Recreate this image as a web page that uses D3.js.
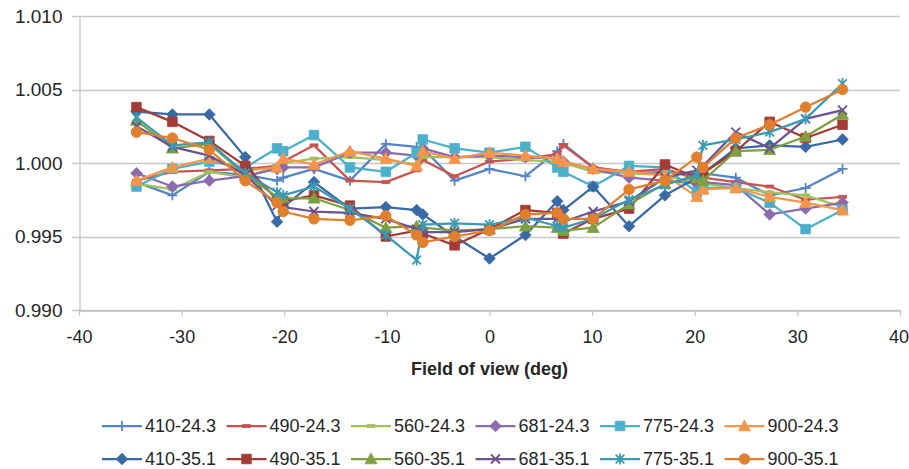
<!DOCTYPE html>
<html>
<head>
<meta charset="utf-8">
<script src="https://cdn.jsdelivr.net/npm/d3@7"></script>
<style>
  body { margin: 0; background: #fff; }
  text { font-family: "Liberation Sans", Arial, sans-serif; fill: #262626; }
</style>
</head>
<body>
<svg id="chart" width="909" height="469"></svg>
<script>
// field of view positions (deg) shared by every series
var fov = [-34.4, -30.9, -27.3, -23.8, -20.7, -20.1, -17.1, -13.6, -10.1, -7.1, -6.5, -3.4, 0,
           3.5, 6.6, 7.2, 10.1, 13.6, 17.1, 20.2, 20.8, 24.0, 27.3, 30.8, 34.4];

var xTicks = [-40, -30, -20, -10, 0, 10, 20, 30, 40];
var yTicks = [0.990, 0.995, 1.000, 1.005, 1.010];

var names = ["410-24.3", "490-24.3", "560-24.3", "681-24.3", "775-24.3", "900-24.3",
             "410-35.1", "490-35.1", "560-35.1", "681-35.1", "775-35.1", "900-35.1"];

// values
var v410_243 = [0.9987, 0.9978, 0.9994, 0.9992, 0.9988, 0.9990, 0.9996, 0.9988, 1.0013, 1.0011, 1.0010, 0.9988, 0.9996,
                0.9991, 1.0008, 1.0013, 0.9997, 0.9993, 0.9994, 0.9993, 0.9993, 0.9990, 0.9978, 0.9983, 0.9996];
var v490_243 = [0.9988, 0.9994, 0.9995, 0.9996, 0.9998, 1.0001, 1.0012, 0.9988, 0.9987, 0.9995, 1.0002, 0.9991, 1.0001,
                1.0003, 1.0006, 1.0012, 0.9997, 0.9994, 0.9996, 0.9989, 0.9990, 0.9987, 0.9984, 0.9975, 0.9977];
var v560_243 = [0.9986, 0.9982, 0.9994, 0.9990, 0.9998, 1.0000, 1.0003, 1.0004, 1.0002, 0.9999, 1.0004, 1.0004, 1.0004,
                1.0002, 1.0001, 1.0000, 0.9994, 0.9993, 0.9992, 0.9985, 0.9986, 0.9983, 0.9980, 0.9978, 0.9970];
var v681_243 = [0.9993, 0.9984, 0.9988, 0.9991, 0.9996, 0.9997, 0.9997, 1.0007, 1.0007, 1.0005, 1.0010, 1.0004, 1.0005,
                1.0004, 1.0003, 1.0001, 0.9996, 0.9990, 0.9988, 0.9986, 0.9987, 0.9985, 0.9965, 0.9969, 0.9973];
var v775_243 = [0.9984, 0.9996, 1.0001, 0.9997, 1.0010, 1.0008, 1.0019, 0.9997, 0.9994, 1.0007, 1.0016, 1.0010, 1.0007,
                1.0011, 0.9997, 0.9994, 0.9984, 0.9998, 0.9997, 0.9980, 0.9983, 0.9983, 0.9973, 0.9955, 0.9968];
var v900_243 = [0.9988, 0.9997, 1.0003, 0.9995, 0.9997, 1.0003, 0.9999, 1.0008, 1.0003, 0.9998, 1.0008, 1.0003, 1.0007,
                1.0005, 1.0003, 1.0001, 0.9996, 0.9994, 0.9992, 0.9977, 0.9982, 0.9983, 0.9977, 0.9973, 0.9968];
var v410_351 = [1.0035, 1.0033, 1.0033, 1.0004, 0.9960, 0.9970, 0.9987, 0.9969, 0.9970, 0.9968, 0.9965, 0.9950, 0.9935,
                0.9951, 0.9974, 0.9968, 0.9984, 0.9957, 0.9978, 0.9990, 0.9993, 1.0010, 1.0012, 1.0011, 1.0016];
var v490_351 = [1.0038, 1.0028, 1.0015, 0.9998, 0.9975, 0.9974, 0.9978, 0.9971, 0.9950, 0.9954, 0.9952, 0.9944, 0.9955,
                0.9968, 0.9966, 0.9952, 0.9962, 0.9969, 0.9999, 0.9990, 0.9993, 1.0008, 1.0028, 1.0017, 1.0026];
var v560_351 = [1.0029, 1.0010, 1.0013, 0.9992, 0.9977, 0.9976, 0.9976, 0.9968, 0.9956, 0.9957, 0.9956, 0.9954, 0.9955,
                0.9957, 0.9956, 0.9954, 0.9956, 0.9972, 0.9986, 0.9990, 0.9988, 1.0008, 1.0009, 1.0018, 1.0033];
var v681_351 = [1.0025, 1.0011, 1.0005, 0.9992, 0.9971, 0.9970, 0.9967, 0.9966, 0.9962, 0.9955, 0.9953, 0.9953, 0.9955,
                0.9962, 0.9962, 0.9960, 0.9967, 0.9974, 0.9990, 0.9995, 0.9998, 1.0021, 1.0010, 1.0030, 1.0036];
var v775_351 = [1.0031, 1.0012, 1.0014, 0.9993, 0.9980, 0.9978, 0.9984, 0.9969, 0.9951, 0.9934, 0.9958, 0.9959, 0.9958,
                0.9963, 0.9957, 0.9956, 0.9962, 0.9975, 0.9985, 0.9992, 1.0012, 1.0016, 1.0021, 1.0030, 1.0054];
var v900_351 = [1.0021, 1.0017, 1.0009, 0.9988, 0.9973, 0.9967, 0.9962, 0.9961, 0.9964, 0.9951, 0.9946, 0.9950, 0.9954,
                0.9965, 0.9966, 0.9962, 0.9962, 0.9982, 0.9988, 1.0004, 0.9997, 1.0017, 1.0026, 1.0038, 1.0050];

var values = [v410_243, v490_243, v560_243, v681_243, v775_243, v900_243,
              v410_351, v490_351, v560_351, v681_351, v775_351, v900_351];

// styling per series (same order as names)
var colors = ["#5585c4", "#c9534f", "#a0c25c", "#8a6cae", "#4bb0cb", "#f7964a",
              "#3a6aa6", "#a33b37", "#7ea040", "#6c5290", "#3a9ab4", "#e0802f"];
var markers = ["plus", "dash", "dash", "diamond", "square", "triangle",
               "diamond", "square", "triangle", "cross", "star", "circle"];

// marker shapes, filled ones get fill, stroked ones get stroke only
var shapes = {
    plus:     { d: "M-5,0H5M0,-5V5", filled: false },
    dash:     { d: "M-4,-1.5h8v3h-8z", filled: true },
    diamond:  { d: "M0,-5.8L5.8,0L0,5.8L-5.8,0Z", filled: true },
    square:   { d: "M-4.8,-4.8h9.6v9.6h-9.6z", filled: true },
    triangle: { d: "M0,-6L6,4.8H-6Z", filled: true },
    cross:    { d: "M-4.5,-4.5L4.5,4.5M4.5,-4.5L-4.5,4.5", filled: false },
    star:     { d: "M-4.3,-4.3L4.3,4.3M4.3,-4.3L-4.3,4.3M0,-5.5V5.5", filled: false },
    circle:   { d: "M5.3,0A5.3,5.3,0,1,1,-5.3,0A5.3,5.3,0,1,1,5.3,0Z", filled: true }
};

var svg = d3.select("#chart");

// plot area edges
var plotL = 79, plotR = 900, plotT = 16, plotB = 310;

var x = d3.scaleLinear().domain([-40, 40]).range([plotL, plotR]);
var y = d3.scaleLinear().domain([0.990, 1.010]).range([plotB, plotT]);

// horizontal gridlines (start a little left of the axis like the tick marks)
svg.append("g")
    .selectAll("line")
    .data(yTicks)
    .enter().append("line")
    .attr("x1", plotL - 7)
    .attr("x2", plotR)
    .attr("y1", function(d) { return Math.round(y(d)) + 0.5; })
    .attr("y2", function(d) { return Math.round(y(d)) + 0.5; })
    .attr("stroke", "#c8c8c8")
    .attr("stroke-width", 1.3);

// y axis
var yAxis = svg.append("g")
    .attr("transform", "translate(" + (plotL + 0.5) + ",0)")
    .call(d3.axisLeft(y).tickValues(yTicks).tickSize(0).tickSizeOuter(0).tickPadding(17)
        .tickFormat(d3.format(".3f")));
yAxis.select(".domain").attr("stroke", "#c8c8c8").attr("stroke-width", 1.3);
yAxis.selectAll("text").style("font-size", "19px").attr("fill", "#262626");

// x axis (plain hyphen for negatives, like the original)
var xAxis = svg.append("g")
    .attr("transform", "translate(0," + (plotB + 0.5) + ")")
    .call(d3.axisBottom(x).tickValues(xTicks).tickSize(5).tickSizeOuter(0)
        .tickFormat(function(d) { return String(d); }));
xAxis.select(".domain").attr("stroke", "#c0c0c0").attr("stroke-width", 1.3);
xAxis.selectAll(".tick line").attr("stroke", "#c0c0c0").attr("stroke-width", 1.3);
xAxis.selectAll("text")
    .style("font-size", "18px")
    .attr("fill", "#262626")
    .attr("y", 26)
    .attr("dy", "0.35em");
// keep the last label inside the page
xAxis.selectAll(".tick text")
    .filter(function(d) { return d === 40; })
    .attr("text-anchor", "end")
    .attr("x", 8.5);

// axis title
svg.append("text")
    .attr("x", (plotL + plotR) / 2)
    .attr("y", 375)
    .attr("text-anchor", "middle")
    .style("font-size", "18px")
    .style("font-weight", "bold")
    .text("Field of view (deg)");

var line = d3.line()
    .x(function(d) { return x(d[0]); })
    .y(function(d) { return y(d[1]); });

function drawMarker(sel, kind, color) {
    var s = shapes[kind];
    sel.append("path")
        .attr("d", s.d)
        .attr("fill", s.filled ? color : "none")
        .attr("stroke", color)
        .attr("stroke-width", s.filled ? 0.8 : 1.8);
}

// series
names.forEach(function(name, i) {
    var pts = fov.map(function(f, j) { return [f, values[i][j]]; });
    var g = svg.append("g").attr("class", "series");

    g.append("path")
        .datum(pts)
        .attr("d", line)
        .attr("fill", "none")
        .attr("stroke", colors[i])
        .attr("stroke-width", 2.25)
        .attr("stroke-linejoin", "round");

    g.selectAll("g.mk")
        .data(pts)
        .enter().append("g")
        .attr("class", "mk")
        .attr("transform", function(d) { return "translate(" + x(d[0]) + "," + y(d[1]) + ")"; })
        .each(function() { drawMarker(d3.select(this), markers[i], colors[i]); });
});

// legend: two rows of six
var legend = svg.append("g");
names.forEach(function(name, i) {
    var col = i % 6, row = Math.floor(i / 6);
    var lx = 102 + col * 124.5;
    var ly = row === 0 ? 426 : 459;
    var item = legend.append("g");
    item.append("line")
        .attr("x1", lx).attr("x2", lx + 40)
        .attr("y1", ly).attr("y2", ly)
        .attr("stroke", colors[i])
        .attr("stroke-width", 2.25);
    var m = item.append("g").attr("transform", "translate(" + (lx + 20) + "," + ly + ")");
    drawMarker(m, markers[i], colors[i]);
    item.append("text")
        .attr("x", lx + 43)
        .attr("y", ly)
        .attr("dy", "0.35em")
        .style("font-size", "18px")
        .text(name);
});
</script>
</body>
</html>
